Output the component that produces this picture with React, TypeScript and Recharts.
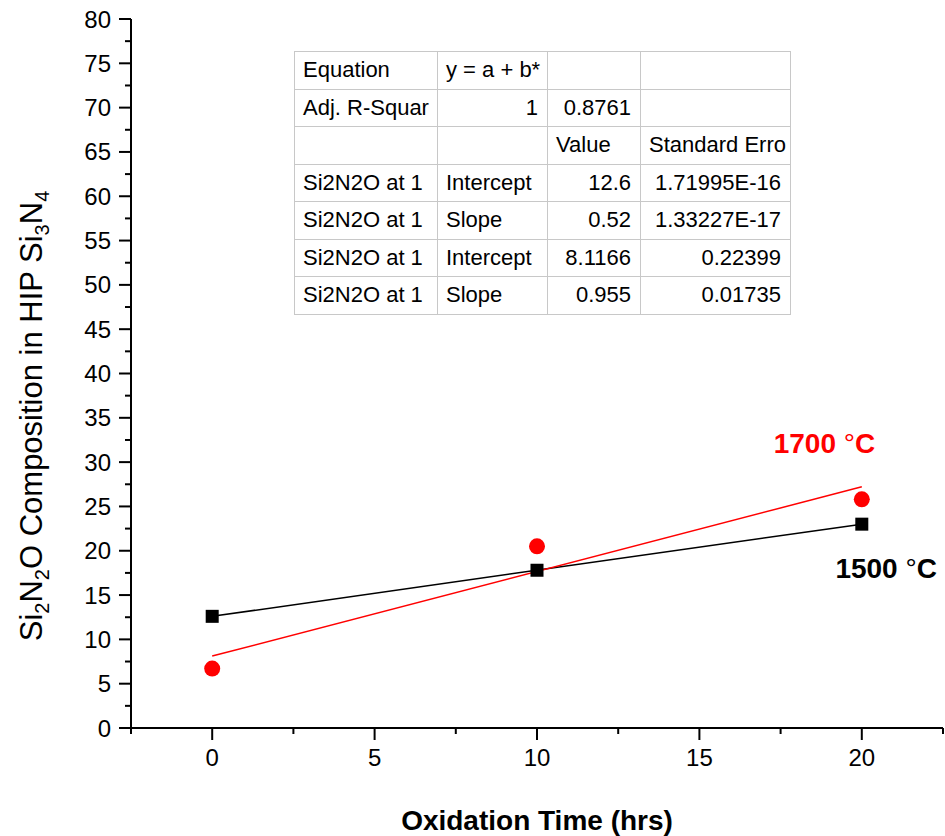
import React from "react"
import { ComposedChart, Scatter, Line, XAxis, YAxis, ReferenceDot } from "recharts"

// measured points (hrs, composition)
const times = [0, 10, 20]
const comp1500 = [12.6, 17.8, 23.0]
const comp1700 = [6.7, 20.5, 25.8]

// linear fit end points (from the fit table)
const fitTimes = [0, 20]
const fit1500 = [12.6, 23.0]
const fit1700 = [8.1166, 27.2166]

const xTicks = [-2.5, 0, 2.5, 5, 7.5, 10, 12.5, 15, 17.5, 20, 22.5]
const yTicks = [
  0, 2.5, 5, 7.5, 10, 12.5, 15, 17.5, 20, 22.5, 25, 27.5, 30, 32.5, 35, 37.5, 40,
  42.5, 45, 47.5, 50, 52.5, 55, 57.5, 60, 62.5, 65, 67.5, 70, 72.5, 75, 77.5, 80,
]

const tableRows = [
  ["Equation", "y = a + b*", "", ""],
  ["Adj. R-Squar", "1", "0.8761", ""],
  ["", "", "Value", "Standard Erro"],
  ["Si2N2O at 1", "Intercept", "12.6", "1.71995E-16"],
  ["Si2N2O at 1", "Slope", "0.52", "1.33227E-17"],
  ["Si2N2O at 1", "Intercept", "8.1166", "0.22399"],
  ["Si2N2O at 1", "Slope", "0.955", "0.01735"],
]
const colWidths = [143, 110, 93, 150]

const FONT = "'Liberation Sans', Arial, sans-serif"

const pts1500 = times.map((t, i) => ({ x: t, y: comp1500[i] }))
const pts1700 = times.map((t, i) => ({ x: t, y: comp1700[i] }))
const line1500 = fitTimes.map((t, i) => ({ x: t, y: fit1500[i] }))
const line1700 = fitTimes.map((t, i) => ({ x: t, y: fit1700[i] }))

const XTick = (props: any) => {
  const { x, y, payload } = props
  const major = payload.value % 5 === 0
  return (
    <g>
      <line x1={x} x2={x} y1={y} y2={y + (major ? 12 : 6)} stroke="#000" strokeWidth={2} />
      {major && (
        <text x={x} y={y + 38} textAnchor="middle" fontSize={24} fontFamily={FONT} fill="#000">
          {payload.value}
        </text>
      )}
    </g>
  )
}

const YTick = (props: any) => {
  const { x, y, payload } = props
  const major = payload.value % 5 === 0
  return (
    <g>
      <line x1={x} x2={x - (major ? 12 : 6)} y1={y} y2={y} stroke="#000" strokeWidth={2} />
      {major && (
        <text x={x - 20} y={y + 8.5} textAnchor="end" fontSize={24} fontFamily={FONT} fill="#000">
          {payload.value}
        </text>
      )}
    </g>
  )
}

const Square = (props: any) => (
  <rect x={props.cx - 6.5} y={props.cy - 6.5} width={13} height={13} fill="#000" />
)
const Dot = (props: any) => <circle cx={props.cx} cy={props.cy} r={8} fill="#ff0000" />

const YTitle = () => (
  <text
    transform="translate(42,416) rotate(-90)"
    textAnchor="middle"
    fontSize={31}
    fontFamily={FONT}
    fill="#000"
  >
    Si<tspan dy={7} fontSize={20}>2</tspan>
    <tspan dy={-7}>N</tspan>
    <tspan dy={7} fontSize={20}>2</tspan>
    <tspan dy={-7}>O Composition in HIP Si</tspan>
    <tspan dy={7} fontSize={20}>3</tspan>
    <tspan dy={-7}>N</tspan>
    <tspan dy={7} fontSize={20}>4</tspan>
  </text>
)

const tempLabel = (text: string, color: string) => (props: any) => {
  const { viewBox } = props
  return (
    <text
      x={viewBox.x + viewBox.width / 2}
      y={viewBox.y + viewBox.height / 2 + 10}
      textAnchor="middle"
      fontSize={28}
      fontWeight="bold"
      fontFamily={FONT}
      fill={color}
    >
      {text}
      <tspan fontWeight="normal"> °</tspan>C
    </text>
  )
}

const isNum = (s: string) => /^[\d.E+-]+$/.test(s)

export default function App() {
  return (
    <div style={{ position: "absolute", left: 0, top: 0, width: 945, height: 836, background: "#fff" }}>
      <ComposedChart
        width={945}
        height={836}
        margin={{ top: 19, right: 2, bottom: 48, left: 71 }}
      >
        <XAxis
          type="number"
          dataKey="x"
          domain={[-2.5, 22.5]}
          ticks={xTicks}
          interval={0}
          allowDataOverflow
          height={60}
          tickSize={0}
          tickMargin={0}
          tick={<XTick />}
          axisLine={{ stroke: "#000", strokeWidth: 2 }}
        />
        <YAxis
          type="number"
          dataKey="y"
          domain={[0, 80]}
          ticks={yTicks}
          interval={0}
          allowDataOverflow
          width={60}
          tickSize={0}
          tickMargin={0}
          tick={<YTick />}
          axisLine={{ stroke: "#000", strokeWidth: 2 }}
        />
        <Line data={line1500} dataKey="y" stroke="#000" strokeWidth={1.5} dot={false} isAnimationActive={false} />
        <Line data={line1700} dataKey="y" stroke="#ff0000" strokeWidth={1.5} dot={false} isAnimationActive={false} />
        <Scatter data={pts1500} dataKey="y" shape={<Square />} isAnimationActive={false} />
        <Scatter data={pts1700} dataKey="y" shape={<Dot />} isAnimationActive={false} />
        <ReferenceDot x={18.85} y={32.2} r={0} label={tempLabel("1700", "#ff0000")} />
        <ReferenceDot x={20.75} y={18.1} r={0} label={tempLabel("1500", "#000")} />
      </ComposedChart>
      <svg width={945} height={836} style={{ position: "absolute", left: 0, top: 0, pointerEvents: "none" }}>
        <YTitle />
        <text x={537} y={830} textAnchor="middle" fontSize={28} fontWeight="bold" fontFamily={FONT} fill="#000">
          Oxidation Time (hrs)
        </text>
      </svg>
      <table
        style={{
          position: "absolute",
          left: 294,
          top: 51,
          borderCollapse: "collapse",
          tableLayout: "fixed",
          fontFamily: FONT,
          fontSize: 22,
          color: "#000",
          background: "#fff",
          border: "1.5px solid #444",
        }}
      >
        <colgroup>
          {colWidths.map((w, i) => (
            <col key={i} style={{ width: w }} />
          ))}
        </colgroup>
        <tbody>
          {tableRows.map((row, r) => (
            <tr key={r} style={{ height: 37.5 }}>
              {row.map((cell, c) => (
                <td
                  key={c}
                  style={{
                    border: "1px solid #c8c8c8",
                    padding: isNum(cell) ? "0 9px 0 4px" : "0 4px 0 8px",
                    textAlign: isNum(cell) ? "right" : "left",
                    whiteSpace: "nowrap",
                    overflow: "hidden",
                    height: 37.5,
                    boxSizing: "border-box",
                  }}
                >
                  {cell}
                </td>
              ))}
            </tr>
          ))}
        </tbody>
      </table>
    </div>
  )
}
